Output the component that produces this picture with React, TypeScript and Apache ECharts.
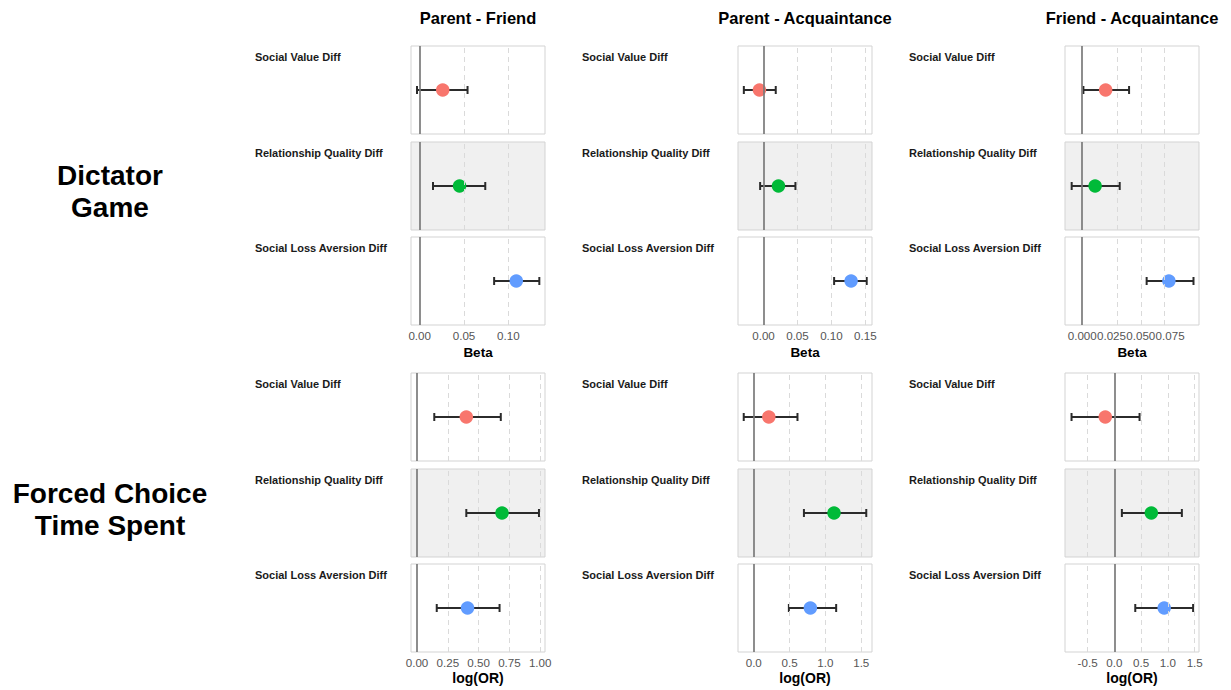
import React, { useEffect, useRef } from "react";
import * as echarts from "echarts";

// ---- data ----
const comparisons = ["Parent - Friend", "Parent - Acquaintance", "Friend - Acquaintance"];
const rowLabels = ["Dictator\nGame", "Forced Choice\nTime Spent"];
const axisNames = ["Beta", "log(OR)"];
const panelLabels = ["Social Value Diff", "Relationship Quality Diff", "Social Loss Aversion Diff"];
const pointColors = ["#F8766D", "#00BA38", "#619CFF"];

// Dictator Game (Beta)
const dgPFest = [0.026, 0.045, 0.109];
const dgPFlo = [-0.003, 0.015, 0.084];
const dgPFhi = [0.054, 0.074, 0.135];
const dgPAest = [-0.006, 0.022, 0.129];
const dgPAlo = [-0.029, -0.005, 0.104];
const dgPAhi = [0.018, 0.047, 0.152];
const dgFAest = [0.020, 0.011, 0.074];
const dgFAlo = [0.001, -0.009, 0.055];
const dgFAhi = [0.040, 0.032, 0.095];

// Forced Choice Time Spent (log OR)
const fcPFest = [0.40, 0.69, 0.41];
const fcPFlo = [0.14, 0.40, 0.16];
const fcPFhi = [0.68, 0.99, 0.67];
const fcPAest = [0.21, 1.12, 0.79];
const fcPAlo = [-0.14, 0.70, 0.49];
const fcPAhi = [0.61, 1.57, 1.15];
const fcFAest = [-0.17, 0.69, 0.93];
const fcFAlo = [-0.80, 0.14, 0.39];
const fcFAhi = [0.47, 1.26, 1.47];

// axis domains and ticks
const dgPFrange = [-0.0098, 0.1414];
const dgPArange = [-0.0376, 0.1598];
const dgFArange = [-0.0147, 0.0997];
const fcPFrange = [-0.049, 1.039];
const fcPArange = [-0.22, 1.65];
const fcFArange = [-0.922, 1.58];

const dgPFticks = [0, 0.05, 0.1];
const dgPAticks = [0, 0.05, 0.1, 0.15];
const dgFAticks = [0, 0.025, 0.05, 0.075];
const fcPFticks = [0, 0.25, 0.5, 0.75, 1.0];
const fcPAticks = [0, 0.5, 1.0, 1.5];
const fcFAticks = [-0.5, 0, 0.5, 1.0, 1.5];

const blocks = [
  [
    { est: dgPFest, lo: dgPFlo, hi: dgPFhi, range: dgPFrange, ticks: dgPFticks, dec: 2 },
    { est: dgPAest, lo: dgPAlo, hi: dgPAhi, range: dgPArange, ticks: dgPAticks, dec: 2 },
    { est: dgFAest, lo: dgFAlo, hi: dgFAhi, range: dgFArange, ticks: dgFAticks, dec: 3 },
  ],
  [
    { est: fcPFest, lo: fcPFlo, hi: fcPFhi, range: fcPFrange, ticks: fcPFticks, dec: 2 },
    { est: fcPAest, lo: fcPAlo, hi: fcPAhi, range: fcPArange, ticks: fcPAticks, dec: 1 },
    { est: fcFAest, lo: fcFAlo, hi: fcFAhi, range: fcFArange, ticks: fcFAticks, dec: 1 },
  ],
];

// ---- layout ----
const FONT = "'Liberation Sans', Arial, Helvetica, sans-serif";
const colLefts = [411, 738, 1065];
const panelW = 134;
const panelH = 88;
const rowTops = [
  [46, 142, 237],
  [373, 469, 564],
];
const rowLabelY = [191, 509];
const nameGaps = [20, 19];

function buildOption() {
  const grid: any[] = [];
  const xAxis: any[] = [];
  const yAxis: any[] = [];
  const series: any[] = [];
  const graphic: any[] = [];

  comparisons.forEach((c, ci) => {
    graphic.push({
      type: "text",
      x: colLefts[ci] + panelW / 2,
      y: 18,
      style: {
        text: c,
        fontFamily: FONT,
        fontSize: 16.5,
        fontWeight: "bold",
        fill: "#000",
        align: "center",
        verticalAlign: "middle",
      },
    });
  });

  rowLabels.forEach((r, ri) => {
    graphic.push({
      type: "text",
      x: 110,
      y: rowLabelY[ri],
      style: {
        text: r,
        fontFamily: FONT,
        fontSize: 28,
        fontWeight: "bold",
        lineHeight: 32,
        fill: "#000",
        align: "center",
        verticalAlign: "middle",
      },
    });
  });

  blocks.forEach((row, ri) => {
    row.forEach((blk, ci) => {
      for (let p = 0; p < 3; p++) {
        const gi = grid.length;
        const top = rowTops[ri][p];
        const left = colLefts[ci];
        grid.push({
          left,
          top,
          width: panelW,
          height: panelH,
          show: true,
          backgroundColor: p === 1 ? "#f0f0f0" : "#ffffff",
          borderColor: "#d3d3d3",
          borderWidth: 1,
          containLabel: false,
        });
        const isBottom = p === 2;
        xAxis.push({
          type: "value",
          gridIndex: gi,
          min: blk.range[0],
          max: blk.range[1],
          axisLine: { show: false },
          axisTick: { show: false },
          splitLine: { show: false },
          axisLabel: {
            show: isBottom,
            customValues: blk.ticks,
            formatter: (v: number) => v.toFixed(blk.dec),
            color: "#555",
            fontFamily: FONT,
            fontSize: 11.6,
            margin: 4,
          },
          name: isBottom ? axisNames[ri] : "",
          nameLocation: "middle",
          nameGap: nameGaps[ri],
          nameTextStyle: {
            fontFamily: FONT,
            fontSize: ri === 0 ? 13.5 : 14,
            fontWeight: "bold",
            color: "#000",
            verticalAlign: "top",
          },
        });
        yAxis.push({
          type: "value",
          gridIndex: gi,
          min: 0,
          max: 1,
          show: false,
          splitLine: { show: false },
        });

        // reference lines: dashed grid lines and solid zero line
        const refData: any[] = blk.ticks
          .filter((t) => t !== 0)
          .map((t) => ({
            xAxis: t,
            lineStyle: { color: "#dadada", width: 1, type: [5, 4] },
          }));
        refData.push({ xAxis: 0, lineStyle: { color: "#7a7a7a", width: 1.7, type: "solid" } });
        series.push({
          type: "scatter",
          xAxisIndex: gi,
          yAxisIndex: gi,
          data: [],
          z: 1,
          silent: true,
          markLine: {
            silent: true,
            symbol: "none",
            label: { show: false },
            emphasis: { disabled: true },
            data: refData,
          },
        });

        // error bar
        series.push({
          type: "custom",
          xAxisIndex: gi,
          yAxisIndex: gi,
          z: 3,
          silent: true,
          encode: { x: [0, 1], y: 2 },
          data: [[blk.lo[p], blk.hi[p], 0.5]],
          renderItem: (params: any, api: any) => {
            const a = api.coord([api.value(0), api.value(2)]);
            const b = api.coord([api.value(1), api.value(2)]);
            const h = 4;
            const st = { stroke: "#2b2b2b", lineWidth: 2 };
            return {
              type: "group",
              children: [
                { type: "line", shape: { x1: a[0], y1: a[1], x2: b[0], y2: b[1] }, style: st },
                { type: "line", shape: { x1: a[0], y1: a[1] - h, x2: a[0], y2: a[1] + h }, style: st },
                { type: "line", shape: { x1: b[0], y1: b[1] - h, x2: b[0], y2: b[1] + h }, style: st },
              ],
            };
          },
        });

        // point estimate
        series.push({
          type: "scatter",
          xAxisIndex: gi,
          yAxisIndex: gi,
          z: 4,
          silent: true,
          symbol: "circle",
          symbolSize: 13.5,
          itemStyle: { color: pointColors[p], opacity: 1 },
          data: [[blk.est[p], 0.5]],
        });

        // panel label
        graphic.push({
          type: "text",
          x: left - 156,
          y: top + 10.5,
          style: {
            text: panelLabels[p],
            fontFamily: FONT,
            fontSize: 11,
            fontWeight: "bold",
            fill: "#1a1a1a",
            align: "left",
            verticalAlign: "middle",
          },
        });
      }
    });
  });

  return {
    animation: false,
    backgroundColor: "#ffffff",
    grid,
    xAxis,
    yAxis,
    series,
    graphic,
  };
}

export default function App() {
  const ref = useRef<HTMLDivElement>(null);
  useEffect(() => {
    if (!ref.current) return;
    const chart = echarts.init(ref.current, null, { renderer: "svg" });
    chart.setOption(buildOption() as any);
    return () => chart.dispose();
  }, []);
  return (
    <div
      ref={ref}
      style={{ position: "absolute", left: 0, top: 0, width: 1231, height: 690, background: "#fff" }}
    />
  );
}
